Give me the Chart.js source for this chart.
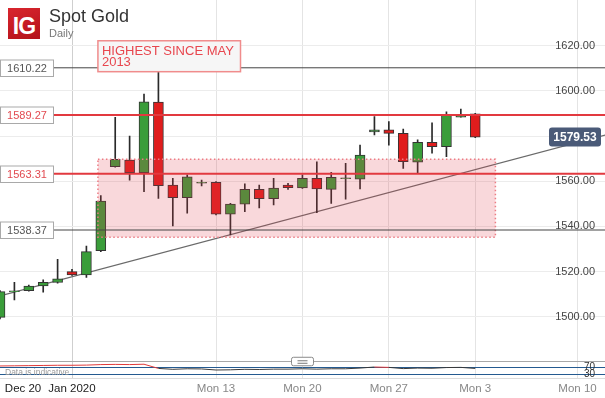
<!DOCTYPE html>
<html>
<head>
<meta charset="utf-8">
<script src="https://cdn.jsdelivr.net/npm/chart.js@4.4.1/dist/chart.umd.min.js"></script>
<style>
  html, body { margin: 0; padding: 0; background: #fff; }
  #wrap { position: relative; width: 605px; height: 398px; overflow: hidden; }
  #chart { position: absolute; left: 0; top: 0; }
  #logo {
    position: absolute; left: 8px; top: 8px; width: 32px; height: 31px;
    background: linear-gradient(160deg, #d9262e, #b3121a);
    color: #fff; font: bold 23px Arial, "Liberation Sans", sans-serif;
    line-height: 31px; text-align: center; letter-spacing: -1px;
    padding-top: 3px; box-sizing: border-box;
  }
  #title {
    position: absolute; left: 49px; top: 7px; color: #333;
    font: 18px Arial, "Liberation Sans", sans-serif; line-height: 18px;
  }
  #sub {
    position: absolute; left: 49px; top: 27.5px; color: #777;
    font: 11px Arial, "Liberation Sans", sans-serif; line-height: 11px;
  }
</style>
</head>
<body>
<div id="wrap">
  <canvas id="chart" width="605" height="398"></canvas>
  <div id="logo">IG</div>
  <div id="title">Spot Gold</div>
  <div id="sub">Daily</div>
</div>
<script>
// trading-day index: 0 = 1 Jan 2020 (Sun..Fri sessions, Saturdays skipped)
const dates = ['Dec 26', 'Dec 27', 'Dec 29', 'Dec 30', 'Dec 31', 'Jan 1', 'Jan 2', 'Jan 3',
  'Jan 5', 'Jan 6', 'Jan 7', 'Jan 8', 'Jan 9', 'Jan 10', 'Jan 12', 'Jan 13', 'Jan 14',
  'Jan 15', 'Jan 16', 'Jan 17', 'Jan 19', 'Jan 20', 'Jan 21', 'Jan 22', 'Jan 23', 'Jan 24',
  'Jan 26', 'Jan 27', 'Jan 28', 'Jan 29', 'Jan 30', 'Jan 31', 'Feb 2', 'Feb 3'];
const dayIdx = [-5, -4, -3, -2, -1, 0, 1, 2, 3, 4, 5, 6, 7, 8, 9, 10, 11, 12, 13, 14, 15, 16,
  17, 18, 19, 20, 21, 22, 23, 24, 25, 26, 27, 28];

const opens = [1499.7, 1511.0, 1511.5, 1513.6, 1515.1, 1519.9, 1518.5, 1529.2, 1566.4, 1569.4,
  1563.8, 1595.0, 1558.3, 1552.7, 1559.1, 1559.5, 1545.4, 1549.8, 1556.4, 1552.3, 1558.3,
  1557.0, 1561.3, 1556.4, 1561.1, 1560.9, 1581.8, 1582.7, 1581.2, 1568.4, 1577.2, 1575.3,
  1588.3, 1589.8];
const highs = [1511.5, 1515.2, 1514.0, 1516.3, 1525.4, 1521.0, 1531.3, 1553.6, 1588.3, 1580.0,
  1598.6, 1611.0, 1561.3, 1562.8, 1560.5, 1559.8, 1550.2, 1558.8, 1558.3, 1561.3, 1559.1,
  1562.8, 1568.6, 1563.9, 1567.9, 1576.0, 1588.6, 1586.4, 1583.1, 1578.3, 1585.9, 1590.7,
  1591.9, 1590.1];
const lows = [1499.0, 1507.4, 1511.3, 1510.8, 1514.8, 1518.3, 1517.4, 1528.8, 1566.2, 1560.5,
  1555.4, 1552.4, 1540.2, 1545.8, 1557.9, 1545.0, 1536.2, 1546.5, 1548.1, 1549.5, 1556.4,
  1556.8, 1546.1, 1550.2, 1552.0, 1556.6, 1580.5, 1576.0, 1565.7, 1563.5, 1572.4, 1570.9,
  1588.3, 1579.3];
const closes = [1511.1, 1511.4, 1513.5, 1515.2, 1516.7, 1518.5, 1528.8, 1551.2, 1569.7, 1563.8,
  1595.2, 1558.0, 1552.7, 1561.9, 1559.5, 1545.4, 1549.8, 1556.4, 1552.3, 1556.9, 1557.1,
  1561.3, 1556.6, 1561.7, 1561.5, 1571.6, 1582.7, 1581.2, 1568.6, 1577.2, 1575.3, 1589.3,
  1589.3, 1579.53];

// RSI sub-panel
const rsi = [77, 78, 79, 80, 81, 81, 82, 85, 86, 85, 87, 63, 58, 61, 60, 54, 55, 58, 57, 59,
  59, 61, 59, 61, 61, 65, 71, 69, 62, 65, 64, 68, 69, 63];
const rsiBands = [30, 70];

// support / resistance levels
const levels = [1610.22, 1589.27, 1563.31, 1538.37];
const levelIsKey = [false, true, true, false];

// consolidation zone and trend line (day index / price)
const zoneX = [1.8, 29.4];
const zoneY = [1535.2, 1569.7];
const trendX = [-5, 37.1];
const trendY = [1509.2, 1580.5];

const lastPrice = 1579.53;
const noteLines = ['HIGHEST SINCE MAY', '2013'];
const noteX = [1.8, 11.7];
const noteY = [1622.2, 1608.5];

// axes
const xTickVals = [-3.4, 0, 10, 16, 22, 28, 35.1];
const xTickLabels = ['Dec 20', 'Jan 2020', 'Mon 13', 'Mon 20', 'Mon 27', 'Mon 3', 'Mon 10'];
const yTickVals = [1480, 1500, 1520, 1540, 1560, 1580, 1600, 1620];

const FONT = 'Arial, "Liberation Sans", Helvetica, sans-serif';
Chart.defaults.font.family = FONT;

const UP = '#3a9d3a', DOWN = '#e01d1d';

const overlays = {
  id: 'overlays',
  afterDatasetDraw(chart, args) {
    if (chart.data.datasets[args.index].id !== 'bodies') return;
    const {ctx, scales: {x, y}} = chart;
    const x0 = x.getPixelForValue(zoneX[0]), x1 = x.getPixelForValue(zoneX[1]);
    const y0 = y.getPixelForValue(zoneY[1]), y1 = y.getPixelForValue(zoneY[0]);
    ctx.save();
    ctx.fillStyle = 'rgba(225,60,75,0.2)';
    ctx.fillRect(x0, y0, x1 - x0, y1 - y0);
    ctx.strokeStyle = '#ec7c84';
    ctx.lineWidth = 1.5;
    ctx.setLineDash([1.5, 2.5]);
    ctx.strokeRect(x0, y0, x1 - x0, y1 - y0);
    ctx.restore();
  },
  afterDraw(chart) {
    const {ctx, chartArea, scales: {x, y, rsi: r}} = chart;
    ctx.save();

    // price axis labels, inside the plot
    ctx.font = '11px ' + FONT;
    ctx.fillStyle = '#444';
    ctx.textAlign = 'right';
    ctx.textBaseline = 'middle';
    y.ticks.forEach(t => {
      if (t.value >= 1500) ctx.fillText(t.value.toFixed(2), chartArea.right - 10, y.getPixelForValue(t.value));
    });

    // level tags on the left
    levels.forEach((lv, k) => {
      const py = Math.round(y.getPixelForValue(lv));
      ctx.fillStyle = '#fff';
      ctx.fillRect(0.5, py - 8, 53, 16.5);
      ctx.strokeStyle = '#a9a9a9';
      ctx.lineWidth = 1;
      ctx.strokeRect(0.5, py - 8, 53, 16.5);
      ctx.fillStyle = levelIsKey[k] ? '#e24a50' : '#555';
      ctx.textAlign = 'center';
      ctx.fillText(lv.toFixed(2), 27, py + 0.5);
    });

    // last price tag
    const py = y.getPixelForValue(lastPrice);
    ctx.fillStyle = '#4a5a78';
    ctx.beginPath();
    ctx.roundRect(chartArea.right - 56, py - 9.5, 52, 19, 3);
    ctx.fill();
    ctx.fillStyle = '#fff';
    ctx.font = 'bold 12px ' + FONT;
    ctx.textAlign = 'center';
    ctx.fillText(lastPrice.toFixed(2), chartArea.right - 30, py + 0.5);

    // note box
    const nx0 = x.getPixelForValue(noteX[0]), nx1 = x.getPixelForValue(noteX[1]);
    const ny0 = y.getPixelForValue(noteY[0]), ny1 = y.getPixelForValue(noteY[1]);
    ctx.fillStyle = '#f6f6f6';
    ctx.fillRect(nx0, ny0, nx1 - nx0, ny1 - ny0);
    ctx.strokeStyle = '#f08c8c';
    ctx.lineWidth = 1.5;
    ctx.strokeRect(nx0, ny0, nx1 - nx0, ny1 - ny0);
    ctx.fillStyle = '#e8464e';
    ctx.font = '13px ' + FONT;
    ctx.textAlign = 'left';
    ctx.textBaseline = 'alphabetic';
    noteLines.forEach((s, k) => ctx.fillText(s, nx0 + 4, ny0 + 14 + k * 11.5));

    // RSI band labels
    ctx.font = '10px ' + FONT;
    ctx.fillStyle = '#333';
    ctx.textAlign = 'right';
    ctx.textBaseline = 'middle';
    rsiBands.forEach(v => ctx.fillText(String(v), chartArea.right - 10, r.getPixelForValue(v)));

    ctx.font = '8.5px ' + FONT;
    ctx.fillStyle = '#9a9a9a';
    ctx.textAlign = 'left';
    ctx.textBaseline = 'alphabetic';
    ctx.fillText('Data is indicative', 5, chartArea.bottom - 3);

    // panel splitter handle
    const hx = (chartArea.left + chartArea.right) / 2;
    const hy = y.getPixelForValue(1480);
    ctx.fillStyle = '#fff';
    ctx.strokeStyle = '#8a8a8a';
    ctx.lineWidth = 1;
    ctx.beginPath();
    ctx.roundRect(hx - 11, hy - 4.5, 22, 8.5, 2);
    ctx.fill();
    ctx.stroke();
    ctx.strokeStyle = '#777';
    ctx.beginPath();
    ctx.moveTo(hx - 5, hy - 1); ctx.lineTo(hx + 5, hy - 1);
    ctx.moveTo(hx - 5, hy + 1.5); ctx.lineTo(hx + 5, hy + 1.5);
    ctx.stroke();
    ctx.restore();
  }
};

const datasets = [
  {
    type: 'line', id: 'trend',
    data: trendX.map((v, i) => ({x: v, y: trendY[i]})),
    borderColor: '#6a6a6a', borderWidth: 1.2, pointRadius: 0, order: 5,
  },
  {
    type: 'bar', id: 'wicks', grouped: false,
    data: dayIdx.map((d, i) => ({x: d, y: [lows[i], highs[i]]})),
    backgroundColor: '#2a2a2a', borderWidth: 0, barThickness: 1, order: 4,
  },
  {
    type: 'bar', id: 'bodies', grouped: false,
    data: dayIdx.map((d, i) => ({x: d, y: [opens[i], closes[i]]})),
    backgroundColor: dayIdx.map((d, i) => closes[i] >= opens[i] ? UP : DOWN),
    borderColor: '#333', borderWidth: 1, borderSkipped: false, barThickness: 10, order: 3,
  },
  {
    type: 'line', id: 'rsi', yAxisID: 'rsi',
    data: dayIdx.map((d, i) => ({x: d, y: rsi[i]})),
    borderColor: '#333', borderWidth: 1, pointRadius: 0, order: 2,
    segment: { borderColor: c => c.p0.parsed.y > 70 ? '#e03a3a' : '#3a3a3a' },
  },
  ...levels.map((lv, k) => ({
    type: 'line', id: 'level' + k,
    data: [{x: -1.25, y: lv}, {x: 37.1, y: lv}],
    borderColor: levelIsKey[k] ? '#e2393f' : '#444',
    borderWidth: levelIsKey[k] ? 2 : 1, pointRadius: 0, order: 1,
  })),
];

new Chart(document.getElementById('chart'), {
  type: 'bar',
  data: { datasets },
  options: {
    responsive: false,
    animation: false,
    layout: { padding: { left: 0, right: 0, top: 0, bottom: 2 } },
    plugins: { legend: { display: false }, tooltip: { enabled: false } },
    scales: {
      x: {
        type: 'linear', min: -5, max: 37.01, offset: false,
        afterBuildTicks: s => { s.ticks = xTickVals.map(v => ({value: v})); },
        afterFit: s => { s.height = 17.8; s.paddingLeft = 0; s.paddingRight = 0; },
        ticks: {
          autoSkip: false, maxRotation: 0, padding: 4,
          font: { size: 11.5 },
          color: c => c.index < 2 ? '#222' : '#888',
          callback: (v, i) => xTickLabels[i],
        },
        grid: {
          offset: false, drawTicks: false,
          color: c => c.index === 0 ? 'rgba(0,0,0,0)' : (c.index === 1 ? '#cfcfcf' : '#e4e4e4'),
        },
        border: { display: true, color: '#dcdcdc' },
      },
      y: {
        type: 'linear', position: 'right', min: 1472.72, max: 1640.26,
        afterBuildTicks: s => { s.ticks = yTickVals.map(v => ({value: v})); },
        ticks: { display: false },
        grid: { drawTicks: false, color: c => c.tick && c.tick.value === 1480 ? '#a8a8a8' : '#ececec' },
        border: { display: false },
      },
      rsi: {
        type: 'linear', position: 'right', min: 7.14, max: 2168.9,
        afterBuildTicks: s => { s.ticks = rsiBands.map(v => ({value: v})); },
        ticks: { display: false },
        grid: { drawTicks: false, color: '#245a90' },
        border: { display: false },
      },
    },
  },
  plugins: [overlays],
});
</script>
</body>
</html>
